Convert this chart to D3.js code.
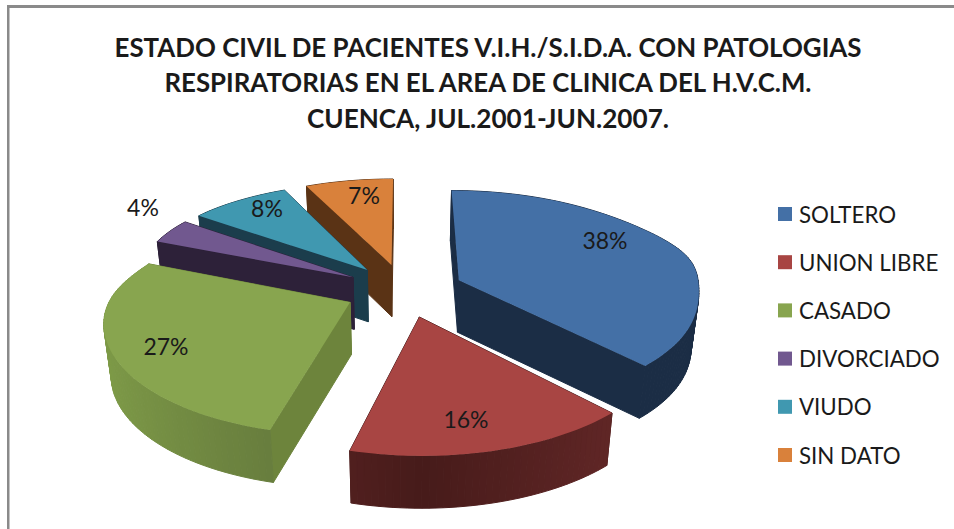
<!DOCTYPE html>
<html><head><meta charset="utf-8">
<script src="https://cdn.jsdelivr.net/npm/d3@7"></script>
<style>html,body{margin:0;padding:0;background:#fff}svg{display:block}text{font-family:Lato,Carlito,sans-serif;fill:#1a1a1a}</style>
</head><body><svg id="c" width="954" height="529"></svg>
<script>
const titleLines=["ESTADO CIVIL DE PACIENTES V.I.H./S.I.D.A. CON PATOLOGIAS","RESPIRATORIAS EN EL AREA DE CLINICA DEL H.V.C.M.","CUENCA, JUL.2001-JUN.2007."];
const categories=["SOLTERO","UNION LIBRE","CASADO","DIVORCIADO","VIUDO","SIN DATO"];
const values=[38,16,27,4,8,7];
const topColors=["#4470a6","#a84543","#88a54f","#71588f","#4098b0","#d9813b"];
const wallNear=["#1b2d45","#471b1a","#60733a","#2d2139","#1b3d4c","#5a3315"];
const wallFar=["#1b2d45","#6b2b2b","#7f9c48","#2d2139","#1b3d4c","#5a3315"];
const radialWall=["#1b2d45","#471b1a","#6d843c","#2d2139","#1b3d4c","#5a3315"];
const titleWidths=[747,647,362];

const svg=d3.select("#c"), W=954,H=529;
// frame
svg.append("rect").attr("x",7).attr("y",5).attr("width",W-7).attr("height",3).attr("fill","#8a8a8a");
svg.append("rect").attr("x",7).attr("y",5).attr("width",2).attr("height",H-5).attr("fill","#8a8a8a");
svg.append("rect").attr("x",9).attr("y",8).attr("width",1).attr("height",H-8).attr("fill","#c4c4c4");

// perspective projection of the exploded pie
const C=[404,290],S=238,T=107,KX=0.15,KY=0.16,E=0.25,DEPTH=52,DS=0.975,BEND=10;
function proj(x,y,z){
  const bend=BEND*Math.exp(-Math.pow((y-.35)/.3,2))*Math.min(1,x*x);
  const px=S*x/(1+KX*y)+bend,py=-T*y/(1+KY*y),f=1-(1-DS)*z,d=DEPTH*(1-0.07*y)*z;
  return [C[0]+px*f,C[1]+py*f+d];
}
const line=d3.line();
const pie=d3.pie().sort(null)(values);
const color=d3.scaleOrdinal(categories,topColors);
const dir=a=>[Math.sin(a),Math.cos(a)];
const slices=pie.map((p,i)=>{
  const mid=(p.startAngle+p.endAngle)/2,[mx,my]=dir(mid);
  const ap=[E*mx,E*my];
  const n=Math.max(4,Math.round((p.endAngle-p.startAngle)*40));
  const angs=d3.range(n+1).map(j=>p.startAngle+(p.endAngle-p.startAngle)*j/n);
  const rim=angs.map(a=>{const [x,y]=dir(a);return [ap[0]+x,ap[1]+y,a];});
  return {i,p,ap,rim,my};
});
const g=svg.append("g");
// far slices first
const order=[5,4,3,2,0,1];
const shade=(i,a)=>{
  const t=Math.min(1,Math.abs(Math.sin(a-Math.PI)));
  return d3.interpolateRgb(wallNear[i],wallFar[i])(t);
};
order.forEach(i=>{
  const s=slices[i],gs=g.append("g");
  const quads=[];
  const q3=(a,b,fill)=>quads.push({pts:[proj(a[0],a[1],0),proj(b[0],b[1],0),proj(b[0],b[1],1),proj(a[0],a[1],1)],depth:(a[1]+b[1])/2,fill});
  q3(s.ap,s.rim[0],radialWall[i]);
  q3(s.ap,s.rim[s.rim.length-1],radialWall[i]);
  d3.pairs(s.rim).forEach(([a,b])=>q3(a,b,shade(i,(a[2]+b[2])/2)));
  quads.sort((a,b)=>b.depth-a.depth);
  gs.selectAll("path.w").data(quads).join("path").attr("class","w").attr("d",d=>line(d.pts)+"Z").attr("fill",d=>d.fill).attr("stroke",d=>d.fill).attr("stroke-width",1);
  const top=[s.ap,...s.rim].map(d=>proj(d[0],d[1],0));
  gs.append("path").attr("d",line(top)+"Z").attr("fill",color(categories[i]));
});
// data labels
const labelScr=[[605,249],[466,428],[166,355],[143,216],[267,217],[364,204]];
svg.selectAll("text.v").data(values).join("text").attr("class","v").attr("text-anchor","middle").attr("font-size",23)
 .attr("x",(d,i)=>labelScr[i][0]).attr("y",(d,i)=>labelScr[i][1]).text(d=>d+"%");
// title
svg.selectAll("text.t").data(titleLines).join("text").attr("class","t").attr("text-anchor","middle").attr("font-size",26).attr("font-weight",700)
 .attr("x",488).attr("y",(d,i)=>56.5+i*35.5).attr("textLength",(d,i)=>titleWidths[i]).attr("lengthAdjust","spacingAndGlyphs").text(d=>d);
// legend
const ly=d3.scalePoint(categories,[214,455]);
const lg=svg.selectAll("g.l").data(categories).join("g").attr("class","l").attr("transform",d=>`translate(778,${ly(d)})`);
lg.append("rect").attr("x",0).attr("y",-7).attr("width",14).attr("height",14).attr("fill",d=>color(d));
lg.append("text").attr("x",21).attr("y",8.5).attr("font-size",24).text(d=>d)
  .each(function(){const l=this.getComputedTextLength();d3.select(this).attr("textLength",l*0.93).attr("lengthAdjust","spacingAndGlyphs");});
</script></body></html>
